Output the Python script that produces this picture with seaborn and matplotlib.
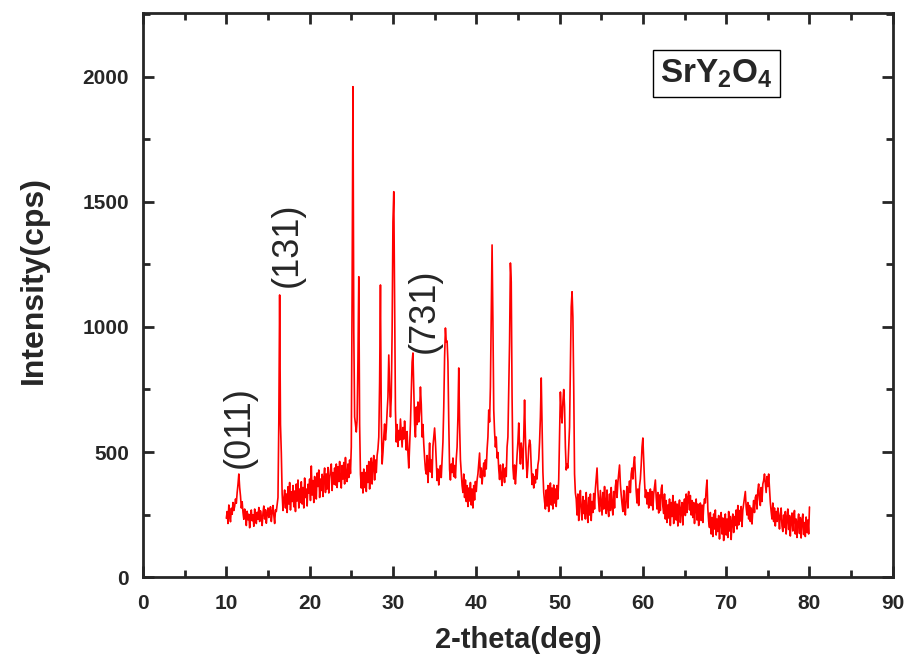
import numpy as np
import pandas as pd
import matplotlib
matplotlib.use("Agg")
import matplotlib.pyplot as plt
from matplotlib.ticker import MultipleLocator
import seaborn as sns

# 2-theta scan from 10 to 80 deg, step 0.1 deg
theta_start = 10.0
theta_end = 80.0
intensity = [
    235, 262, 214, 288, 246, 221, 275, 251, 298, 266,   # 10
    283, 312, 295, 338, 371, 412, 358, 324, 276, 301,   # 11
    258, 231, 272, 244, 206, 263, 229, 251, 197, 240,   # 12
    268, 225, 249, 203, 272, 236, 214, 259, 231, 278,   # 13
    222, 265, 243, 206, 257, 284, 232, 269, 215, 251,   # 14
    276, 238, 262, 281, 222, 259, 286, 247, 214, 268,   # 15
    262, 291, 318, 620, 1128, 610, 496, 332, 266, 312,  # 16
    348, 276, 332, 258, 361, 292, 378, 268, 341, 302,   # 17
    366, 281, 344, 262, 372, 304, 388, 276, 352, 298,   # 18
    381, 292, 358, 276, 396, 318, 352, 284, 371, 336,   # 19
    392, 306, 444, 328, 386, 298, 402, 341, 312, 416,   # 20
    362, 428, 318, 392, 346, 411, 322, 398, 436, 338,   # 21
    412, 352, 438, 336, 396, 428, 452, 346, 418, 372,   # 22
    436, 368, 452, 358, 441, 382, 462, 388, 356, 446,   # 23
    392, 458, 372, 478, 406, 382, 452, 398, 468, 414,   # 24
    520, 1150, 1961, 980, 640, 612, 580, 630, 870, 1201,  # 25
    610, 412, 356, 418, 336, 432, 358, 418, 342, 446,   # 26
    378, 462, 352, 428, 476, 372, 452, 486, 388, 468,   # 27
    418, 486, 512, 560, 776, 1168, 640, 452, 498, 560,  # 28
    612, 548, 590, 660, 720, 888, 760, 640, 720, 980,   # 29
    1420, 1541, 1100, 668, 540, 610, 522, 586, 548, 632,  # 30
    574, 520, 598, 552, 624, 560, 508, 582, 496, 436,   # 31
    520, 612, 740, 860, 896, 760, 612, 560, 680, 610,   # 32
    700, 620, 660, 760, 690, 560, 610, 532, 476, 430,   # 33
    412, 486, 378, 452, 536, 420, 468, 398, 522, 560,   # 34
    596, 540, 458, 386, 432, 368, 412, 446, 398, 472,   # 35
    540, 680, 880, 996, 940, 944, 860, 620, 430, 388,   # 36
    452, 418, 476, 402, 446, 396, 472, 520, 640, 836,   # 37
    610, 470, 418, 366, 338, 412, 318, 388, 302, 366,   # 38
    282, 356, 304, 378, 288, 352, 276, 366, 308, 382,   # 39
    342, 388, 412, 452, 496, 398, 436, 372, 418, 456,   # 40
    402, 468, 432, 510, 560, 668, 620, 760, 1050, 1328,  # 41
    1020, 668, 580, 520, 560, 476, 498, 432, 390, 448,  # 42
    402, 366, 452, 412, 378, 436, 402, 520, 560, 752,   # 43
    940, 1256, 1180, 720, 440, 392, 448, 372, 426, 488,  # 44
    540, 616, 520, 452, 536, 498, 432, 560, 708, 560,   # 45
    470, 398, 446, 520, 548, 530, 440, 370, 412, 356,   # 46
    402, 376, 430, 392, 448, 470, 540, 640, 796, 610,   # 47
    420, 338, 302, 272, 348, 284, 366, 262, 332, 376,   # 48
    288, 356, 272, 368, 296, 352, 282, 366, 312, 390,   # 49
    560, 740, 660, 616, 700, 750, 680, 520, 428, 452,   # 50
    436, 520, 600, 852, 1080, 1141, 1040, 760, 412, 336,  # 51
    312, 248, 332, 226, 298, 346, 262, 228, 322, 254,   # 52
    306, 232, 338, 262, 218, 318, 248, 332, 226, 302,   # 53
    258, 334, 272, 352, 392, 436, 348, 296, 262, 346,   # 54
    296, 248, 338, 272, 362, 286, 254, 348, 276, 242,   # 55
    332, 266, 358, 284, 248, 342, 276, 362, 388, 318,   # 56
    378, 412, 448, 372, 328, 292, 262, 346, 276, 248,   # 57
    328, 362, 276, 348, 384, 338, 412, 436, 392, 452,   # 58
    481, 408, 342, 296, 352, 286, 364, 392, 448, 520,   # 59
    556, 468, 382, 318, 348, 292, 338, 276, 318, 352,   # 60
    286, 342, 268, 332, 362, 388, 318, 272, 338, 256,   # 61
    328, 266, 352, 368, 282, 254, 332, 232, 306, 218,   # 62
    288, 236, 312, 206, 298, 242, 326, 214, 282, 302,   # 63
    228, 292, 204, 276, 308, 218, 268, 298, 208, 286,   # 64
    312, 246, 332, 258, 318, 342, 268, 326, 248, 306,   # 65
    238, 298, 214, 282, 312, 228, 292, 206, 272, 296,   # 66
    226, 288, 218, 282, 312, 296, 352, 388, 272, 222,   # 67
    198, 258, 172, 238, 162, 252, 192, 268, 168, 232,   # 68
    182, 246, 152, 228, 258, 172, 236, 146, 218, 252,   # 69
    168, 232, 158, 262, 184, 242, 150, 222, 252, 178,   # 70
    242, 206, 268, 192, 286, 208, 266, 224, 282, 202,   # 71
    268, 292, 318, 342, 278, 248, 298, 232, 286, 222,   # 72
    276, 212, 268, 306, 258, 318, 328, 272, 346, 372,   # 73
    312, 286, 358, 302, 372, 386, 412, 376, 338, 402,   # 74
    362, 412, 352, 298, 262, 232, 296, 222, 276, 204,   # 75
    262, 222, 276, 242, 192, 252, 276, 204, 182, 248,   # 76
    198, 262, 172, 238, 272, 190, 246, 164, 228, 256,   # 77
    184, 242, 266, 172, 232, 158, 220, 252, 174, 238,   # 78
    156, 226, 252, 170, 218, 162, 240, 178, 228, 172,   # 79
    280,                                                # 80
]

peak_labels = ["(011)", "(131)", "(731)"]
peak_label_x = [11.6, 17.3, 33.8]
peak_label_y = [600, 1330, 1065]

x_ticks = [0, 10, 20, 30, 40, 50, 60, 70, 80, 90]
y_ticks = [0, 500, 1000, 1500, 2000]

theta = np.linspace(theta_start, theta_end, len(intensity))
df = pd.DataFrame({"theta": theta, "intensity": intensity})

sns.set_style("ticks")
plt.rcParams["font.family"] = ["Liberation Sans", "DejaVu Sans"]
plt.rcParams["mathtext.fontset"] = "custom"
plt.rcParams["mathtext.rm"] = "Liberation Sans:bold"
plt.rcParams["mathtext.bf"] = "Liberation Sans:bold"

fig = plt.figure(figsize=(9.11, 6.59), dpi=100)
ax = fig.add_axes([0.157, 0.1244, 0.823, 0.8556])

sns.lineplot(data=df, x="theta", y="intensity", ax=ax, color="#ff0000",
             linewidth=1.2, estimator=None, sort=False)

ax.set_xlim(0, 90)
ax.set_ylim(0, 2255)
ax.set_xticks(x_ticks)
ax.set_yticks(y_ticks)
ax.xaxis.set_minor_locator(MultipleLocator(5))
ax.yaxis.set_minor_locator(MultipleLocator(250))
ax.tick_params(which="both", direction="in", top=True, right=True, width=2)
ax.tick_params(which="major", length=8, labelsize=15)
ax.tick_params(axis="x", which="major", pad=12)
ax.tick_params(axis="y", which="major", pad=10)
ax.tick_params(which="minor", length=5)
for lab in ax.get_xticklabels() + ax.get_yticklabels():
    lab.set_fontweight("bold")
for sp in ax.spines.values():
    sp.set_linewidth(2)
    sp.set_visible(True)

ax.set_xlabel("2-theta(deg)", fontsize=21, fontweight="bold")
ax.set_ylabel("Intensity(cps)", fontsize=23, fontweight="bold")
ax.xaxis.set_label_coords(0.5, -0.086)
ax.yaxis.set_label_coords(-0.126, 0.527)

for t, xx, yy in zip(peak_labels, peak_label_x, peak_label_y):
    ax.text(xx, yy, t, rotation=90, fontsize=26, ha="center", va="center")

ax.text(0.765, 0.893, r"$\mathbf{SrY_2O_4}$", transform=ax.transAxes,
        fontsize=24, ha="center", va="center",
        bbox=dict(boxstyle="square,pad=0.22", facecolor="white",
                  edgecolor="black", linewidth=1))

fig.savefig("out.png", dpi=100)
